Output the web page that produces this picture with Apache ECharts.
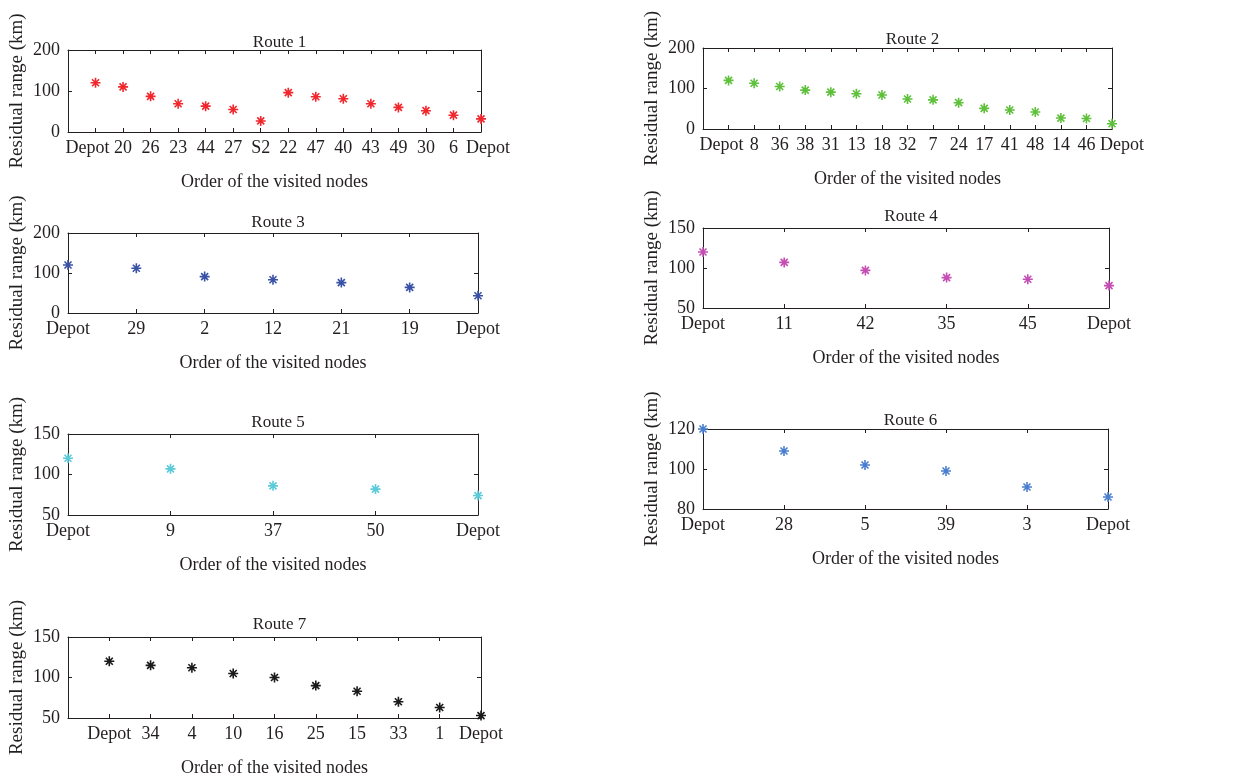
<!DOCTYPE html>
<html><head><meta charset="utf-8">
<script src="https://cdn.jsdelivr.net/npm/echarts@6/dist/echarts.min.js"></script>
<style>html,body{margin:0;padding:0;background:#fff}#c{width:1256px;height:780px}</style>
</head><body><div id="c"></div>
<script>
// ---- data ----
const route1Nodes = ['Depot','20','26','23','44','27','S2','22','47','40','43','49','30','6','Depot'];
const route1Values = [120,110,87,69,63,55,27,96,86,81,69,60,52,41,32];
const route1YTicks = [0,100,200];

const route2Nodes = ['Depot','8','36','38','31','13','18','32','7','24','17','41','48','14','46','Depot'];
const route2Values = [120,113,105,96,91,87,84,74,72,65,51,47,42,27,26,13];
const route2YTicks = [0,100,200];

const route3Nodes = ['Depot','29','2','12','21','19','Depot'];
const route3Values = [120,112,91,83,76,64,43];
const route3YTicks = [0,100,200];

const route4Nodes = ['Depot','11','42','35','45','Depot'];
const route4Values = [120,107,97,88,86,78];
const route4YTicks = [50,100,150];

const route5Nodes = ['Depot','9','37','50','Depot'];
const route5Values = [120,107,86,82,74];
const route5YTicks = [50,100,150];

const route6Nodes = ['Depot','28','5','39','3','Depot'];
const route6Values = [120,109,102,99,91,86];
const route6YTicks = [80,100,120];

const route7Nodes = ['Depot','34','4','10','16','25','15','33','1','Depot'];
const route7Values = [120,115,112,105,100,90,83,70,63,53];
const route7YTicks = [50,100,150];

const xAxisTitle = 'Order of the visited nodes';
const yAxisTitle = 'Residual range (km)';

// ---- layout / style ----
const panels = [
  {title:'Route 1', nodes:route1Nodes, values:route1Values, yTicks:route1YTicks, color:'#f0282d', xMin:0, left:68,  top:50,  width:413, height:82, titleTop:29,  endShift:[-8, 7]},
  {title:'Route 2', nodes:route2Nodes, values:route2Values, yTicks:route2YTicks, color:'#5fc03c', xMin:0, left:703, top:48,  width:409, height:81, titleTop:26,  endShift:[-7, 10]},
  {title:'Route 3', nodes:route3Nodes, values:route3Values, yTicks:route3YTicks, color:'#3a52a5', xMin:1, left:68,  top:233, width:410, height:80, titleTop:209, endShift:[0, 0]},
  {title:'Route 4', nodes:route4Nodes, values:route4Values, yTicks:route4YTicks, color:'#c44eb4', xMin:1, left:703, top:228, width:406, height:80, titleTop:203, endShift:[0, 0]},
  {title:'Route 5', nodes:route5Nodes, values:route5Values, yTicks:route5YTicks, color:'#5ccbd9', xMin:1, left:68,  top:434, width:410, height:81, titleTop:409, endShift:[0, 0]},
  {title:'Route 6', nodes:route6Nodes, values:route6Values, yTicks:route6YTicks, color:'#4a7fd0', xMin:1, left:703, top:429, width:405, height:80, titleTop:407, endShift:[0, 0]},
  {title:'Route 7', nodes:route7Nodes, values:route7Values, yTicks:route7YTicks, color:'#1a1a1a', xMin:0, left:68,  top:637, width:413, height:81, titleTop:611, endShift:[0, 0]}
];

const FONT = "'Liberation Serif','DejaVu Serif',serif";
const INK = '#231f20';
const STAR = 'path://M4.2 0L5.8 0L5.8 10L4.2 10Z M0 4.2L10 4.2L10 5.8L0 5.8Z M2.07 0.93L9.07 7.93L7.93 9.07L0.93 2.07Z M7.93 0.93L9.07 2.07L2.07 9.07L0.93 7.93Z';

const lineStyle = {color: INK, width: 1};
const tickStyle = {show: true, inside: true, length: 4, lineStyle: {color: INK, width: 1}};
const labelFont = {color: INK, fontFamily: FONT, fontSize: 18};

const option = {
  backgroundColor: '#fff',
  animation: false,
  title: [], grid: [], xAxis: [], yAxis: [], series: []
};

panels.forEach((p, i) => {
  const n = p.nodes.length;
  const yMin = p.yTicks[0], yMax = p.yTicks[p.yTicks.length - 1];
  const yInt = p.yTicks[1] - p.yTicks[0];
  const s0 = p.endShift[0], s1 = p.endShift[1];
  option.title.push({
    text: p.title, left: p.left + p.width / 2, top: p.titleTop, textAlign: 'center',
    textStyle: {fontFamily: FONT, fontSize: 17, fontWeight: 'normal', color: INK}
  });
  option.grid.push({left: p.left, top: p.top, width: p.width, height: p.height, show: false});
  const xBase = {type: 'value', gridIndex: i, min: p.xMin, max: n, interval: 1, splitLine: {show: false}};
  // bottom x axis: inner labels + axis title
  option.xAxis.push(Object.assign({}, xBase, {
    position: 'bottom',
    axisLine: {show: true, onZero: false, lineStyle},
    axisTick: tickStyle,
    axisLabel: Object.assign({}, labelFont, {
      margin: 7, showMinLabel: true, showMaxLabel: true,
      formatter: v => (Number.isInteger(v) && v > 1 && v < n) ? p.nodes[v - 1] : ''
    }),
    name: xAxisTitle, nameLocation: 'middle', nameGap: 41,
    nameTextStyle: {color: INK, fontFamily: FONT, fontSize: 18}
  }));
  // bottom x axis (overlay): first and last labels only
  option.xAxis.push(Object.assign({}, xBase, {
    position: 'bottom',
    axisLine: {show: false, onZero: false}, axisTick: {show: false},
    axisLabel: Object.assign({}, labelFont, {
      margin: 7, showMinLabel: true, showMaxLabel: true,
      formatter: v => v === 1 ? '{a|' + p.nodes[0] + '}' : (v === n ? '{b|' + p.nodes[n - 1] + '}' : ''),
      rich: {
        a: Object.assign({}, labelFont, {padding: [0, Math.max(0, -2 * s0), 0, Math.max(0, 2 * s0)]}),
        b: Object.assign({}, labelFont, {padding: [0, Math.max(0, -2 * s1), 0, Math.max(0, 2 * s1)]})
      }
    })
  }));
  // top mirror
  option.xAxis.push(Object.assign({}, xBase, {
    position: 'top',
    axisLine: {show: true, onZero: false, lineStyle},
    axisTick: tickStyle, axisLabel: {show: false}
  }));
  option.yAxis.push({
    type: 'value', gridIndex: i, position: 'left', min: yMin, max: yMax, interval: yInt,
    axisLine: {show: true, onZero: false, lineStyle},
    axisTick: tickStyle, splitLine: {show: false},
    axisLabel: Object.assign({}, labelFont, {margin: 8, showMinLabel: true, showMaxLabel: true}),
    name: yAxisTitle, nameLocation: 'middle', nameGap: 41,
    nameTextStyle: {color: INK, fontFamily: FONT, fontSize: 19}
  });
  option.yAxis.push({
    type: 'value', gridIndex: i, position: 'right', min: yMin, max: yMax, interval: yInt,
    axisLine: {show: true, onZero: false, lineStyle},
    axisTick: tickStyle, splitLine: {show: false}, axisLabel: {show: false}
  });
  option.series.push({
    type: 'scatter', xAxisIndex: 3 * i, yAxisIndex: 2 * i, clip: false,
    symbol: STAR, symbolSize: 10,
    itemStyle: {color: p.color, opacity: 1},
    data: p.values.map((v, k) => [k + 1, v])
  });
});

const chart = echarts.init(document.getElementById('c'), null, {renderer: 'canvas'});
chart.setOption(option);
</script>
</body></html>
